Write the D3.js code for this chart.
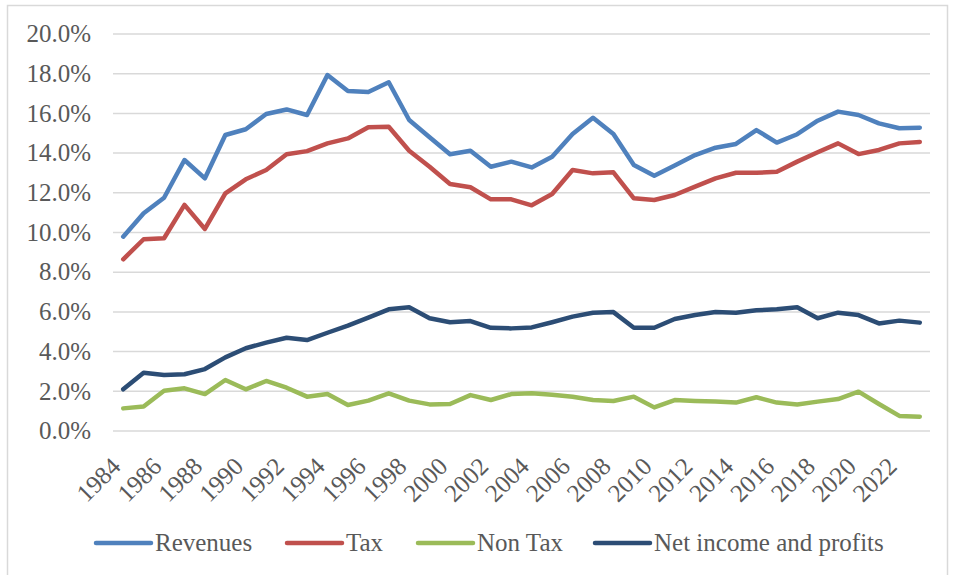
<!DOCTYPE html>
<html>
<head>
<meta charset="utf-8">
<script src="https://cdn.jsdelivr.net/npm/d3@7"></script>
<style>
  body { margin: 0; background: #fff; }
  text { font-family: "Liberation Serif", serif; fill: #595959; }
</style>
</head>
<body>
<svg id="chart" width="956" height="575"></svg>
<script>
const years = d3.range(1984, 2024);
const yTicks = [0, 2, 4, 6, 8, 10, 12, 14, 16, 18, 20];

const revenues = [9.79, 10.97, 11.75, 13.65, 12.73, 14.91, 15.2, 15.97, 16.2, 15.92,
  17.93, 17.13, 17.08, 17.57, 15.67, 14.8, 13.94, 14.12, 13.31, 13.57,
  13.28, 13.82, 14.96, 15.78, 14.96, 13.4, 12.86, 13.37, 13.9, 14.27,
  14.46, 15.16, 14.53, 14.95, 15.63, 16.09, 15.92, 15.5, 15.25, 15.28];
const tax = [8.65, 9.66, 9.71, 11.39, 10.18, 11.97, 12.68, 13.15, 13.94, 14.1,
  14.49, 14.74, 15.3, 15.33, 14.12, 13.31, 12.44, 12.28, 11.67, 11.67,
  11.37, 11.94, 13.15, 12.98, 13.03, 11.72, 11.64, 11.89, 12.31, 12.73,
  13.01, 13.01, 13.06, 13.57, 14.04, 14.49, 13.95, 14.16, 14.49, 14.56];
const nonTax = [1.14, 1.23, 2.03, 2.15, 1.86, 2.57, 2.1, 2.52, 2.18, 1.73,
  1.86, 1.31, 1.53, 1.9, 1.53, 1.34, 1.36, 1.81, 1.56, 1.86,
  1.9, 1.83, 1.73, 1.56, 1.51, 1.73, 1.19, 1.56, 1.51, 1.48,
  1.43, 1.7, 1.43, 1.34, 1.48, 1.61, 1.98, 1.36, 0.76, 0.72];
const netIncome = [2.1, 2.94, 2.82, 2.86, 3.12, 3.71, 4.17, 4.45, 4.7, 4.58,
  4.95, 5.31, 5.71, 6.13, 6.23, 5.68, 5.48, 5.54, 5.2, 5.17,
  5.22, 5.48, 5.76, 5.96, 5.99, 5.2, 5.2, 5.64, 5.84, 5.99,
  5.96, 6.08, 6.13, 6.23, 5.68, 5.96, 5.84, 5.42, 5.56, 5.46];

const series = [
  { name: "Revenues", values: revenues, color: "#4f81bd" },
  { name: "Tax", values: tax, color: "#c0504d" },
  { name: "Non Tax", values: nonTax, color: "#9bbb59" },
  { name: "Net income and profits", values: netIncome, color: "#2c4d75" }
];

const svg = d3.select("#chart");

// chart frame
svg.append("rect")
  .attr("x", 7.5).attr("y", 5.5)
  .attr("width", 940).attr("height", 575)
  .attr("fill", "none").attr("stroke", "#d9d9d9").attr("stroke-width", 1.5);

const x = d3.scalePoint().domain(years).range([113, 930]).padding(0.5);
const y = d3.scaleLinear().domain([0, 20]).range([431, 34]);

// gridlines
svg.append("g")
  .selectAll("line")
  .data(yTicks)
  .join("line")
  .attr("x1", 113).attr("x2", 930)
  .attr("y1", d => y(d)).attr("y2", d => y(d))
  .attr("stroke", "#d9d9d9").attr("stroke-width", 1.5);

// y labels
svg.append("g")
  .selectAll("text")
  .data(yTicks)
  .join("text")
  .attr("x", 91)
  .attr("y", d => y(d))
  .attr("dy", "0.33em")
  .attr("text-anchor", "end")
  .style("font-size", "25px")
  .text(d => d.toFixed(1) + "%");

// x labels, every other year
svg.append("g")
  .selectAll("text")
  .data(years.filter(d => d % 2 === 0))
  .join("text")
  .attr("transform", d => `translate(${x(d) - 1},${468}) rotate(-45)`)
  .attr("text-anchor", "end")
  .style("font-size", "25px")
  .text(d => d);

const line = d3.line()
  .x((d, i) => x(years[i]))
  .y(d => y(d));

svg.append("g")
  .selectAll("path")
  .data(series)
  .join("path")
  .attr("d", d => line(d.values))
  .attr("fill", "none")
  .attr("stroke", d => d.color)
  .attr("stroke-width", 4.5)
  .attr("stroke-linejoin", "round")
  .attr("stroke-linecap", "round");

// legend
const legendX = [96, 287, 418, 595];
const lg = svg.append("g")
  .selectAll("g")
  .data(series)
  .join("g")
  .attr("transform", (d, i) => `translate(${legendX[i]},543)`);
lg.append("line")
  .attr("x1", 0).attr("x2", 55)
  .attr("stroke", d => d.color)
  .attr("stroke-width", 4.5)
  .attr("stroke-linecap", "round");
lg.append("text")
  .attr("x", 59)
  .attr("dy", "0.33em")
  .style("font-size", "25px")
  .text(d => d.name);
</script>
</body>
</html>
